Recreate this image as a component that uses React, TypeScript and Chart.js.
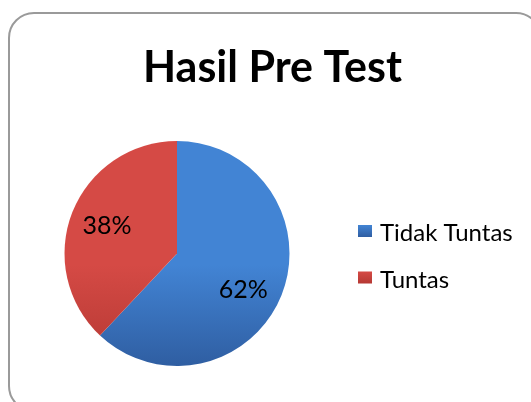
import React, { useEffect, useRef } from "react";
import { Chart, registerables } from "chart.js";

Chart.register(...registerables);

const TITLE = "Hasil Pre Test";
const categories = ["Tidak Tuntas", "Tuntas"];
const values = [62, 38];
const percentLabels = ["62%", "38%"];
const colorsTop = ["#4284d4", "#d54a45"];
const colorsBottom = ["#2f5e a2".replace(" ", ""), "#b53833"];

const FONT = "Lato, 'Open Sans', sans-serif";

function sliceGradient(chart: any, i: number) {
  const area = chart.chartArea;
  if (!area) return colorsTop[i];
  const g = chart.ctx.createLinearGradient(0, area.top, 0, area.bottom);
  g.addColorStop(0, colorsTop[i]);
  g.addColorStop(0.55, colorsTop[i]);
  g.addColorStop(1, colorsBottom[i]);
  return g;
}

const decorPlugin = {
  id: "decor",
  afterDatasetsDraw(chart: any) {
    const ctx = chart.ctx;
    const meta = chart.getDatasetMeta(0);
    ctx.save();
    // percent labels
    ctx.fillStyle = "#000";
    ctx.font = `25px ${FONT}`;
    ctx.textAlign = "center";
    ctx.textBaseline = "middle";
    meta.data.forEach((arc: any, i: number) => {
      const p = arc.getProps(["x", "y", "startAngle", "endAngle", "outerRadius"], true);
      const mid = (p.startAngle + p.endAngle) / 2 + (i === 0 ? 0.12 : 0);
      const r = p.outerRadius * 0.67;
      ctx.fillText(percentLabels[i], p.x + Math.cos(mid) * r, p.y + Math.sin(mid) * r);
    });
    // title
    ctx.font = `bold 43px ${FONT}`;
    ctx.textBaseline = "alphabetic";
    ctx.fillText(TITLE, 272.5, 82);
    // legend
    ctx.textAlign = "left";
    ctx.font = `24px ${FONT}`;
    const rows = [241, 287.5];
    categories.forEach((c, i) => {
      const y = rows[i];
      const g = ctx.createLinearGradient(0, y - 16, 0, y - 4);
      g.addColorStop(0, colorsTop[i]);
      g.addColorStop(1, colorsBottom[i]);
      ctx.fillStyle = g;
      ctx.fillRect(358, y - 16, 14, 12);
      ctx.fillStyle = "#000";
      ctx.fillText(c, 380, y);
    });
    ctx.restore();
  },
};

export default function App() {
  const ref = useRef<HTMLCanvasElement>(null);
  useEffect(() => {
    if (!ref.current) return;
    const chart = new Chart(ref.current, {
      type: "pie",
      data: {
        labels: categories,
        datasets: [
          {
            data: values,
            backgroundColor: (c: any) => sliceGradient(c.chart, c.dataIndex),
            borderWidth: 0,
          },
        ],
      },
      options: {
        animation: false,
        responsive: false,
        events: [],
        layout: { padding: { left: 64.5, right: 241.5, top: 141, bottom: 36 } },
        plugins: {
          legend: { display: false },
          title: { display: false },
          tooltip: { enabled: false },
        },
      },
      plugins: [decorPlugin],
    });
    return () => chart.destroy();
  }, []);
  return (
    <div
      style={{
        position: "fixed",
        left: 0,
        top: 0,
        width: 531,
        height: 402,
        overflow: "hidden",
        background: "#fff",
      }}
    >
      <div
        style={{
          position: "absolute",
          left: 8,
          top: 12,
          width: 534,
          height: 400,
          border: "2px solid #9a9a9a",
          borderRadius: 26,
          boxSizing: "border-box",
        }}
      />
      <canvas
        ref={ref}
        width={531}
        height={402}
        style={{ position: "absolute", left: 0, top: 0, width: 531, height: 402 }}
      />
    </div>
  );
}
